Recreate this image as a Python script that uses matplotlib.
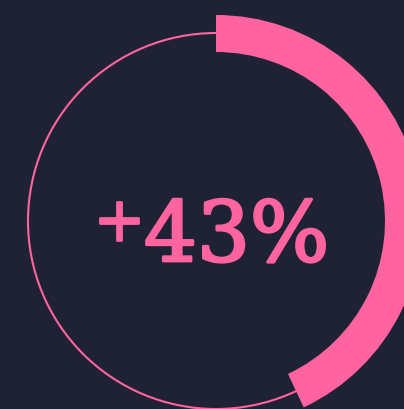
"""Progress ring: +43% shown as a thick arc over a thin reference circle."""

import matplotlib

matplotlib.use("Agg")
import matplotlib.pyplot as plt
import matplotlib.patheffects as pe
from matplotlib.patches import Circle, Wedge

# data
labels = ["change"]
values = [43]  # percent of full ring

BG = "#1f2235"
PINK = "#ff649f"
SERIF = "DejaVu Serif"

W, H = 404, 409
fig = plt.figure(figsize=(W / 100, H / 100), dpi=100, facecolor=BG)
ax = fig.add_axes([0, 0, 1, 1])
ax.set_facecolor(BG)
ax.set_xlim(0, W)
ax.set_ylim(0, H)
ax.set_aspect("equal")
ax.axis("off")

cx, cy = 216, H - 221
r_thin = 188
r_outer, band = 206, 37

ax.add_patch(Circle((cx, cy), r_thin, fill=False, edgecolor=PINK, linewidth=1.5))

pct = values[0]
sweep = 360 * pct / 100
ax.add_patch(Wedge((cx, cy), r_outer, 90 - sweep, 90, width=band,
                   facecolor=PINK, edgecolor="none"))

# thicken the regular serif a little
heavy = [pe.withStroke(linewidth=2.0, foreground=PINK)]
ax.text(119, H - 223, "+", ha="center", va="center", color=PINK,
        fontsize=44, family=SERIF, path_effects=heavy)
ax.text(144, H - 261, f"{pct}%", ha="left", va="baseline", color=PINK,
        fontsize=60, family=SERIF, path_effects=heavy)

fig.savefig("out.png", facecolor=BG)
plt.close(fig)
